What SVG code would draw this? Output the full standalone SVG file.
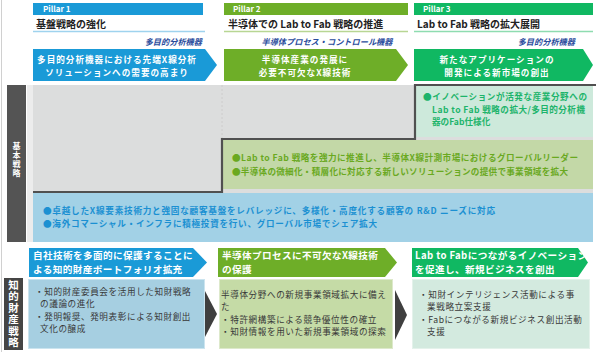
<svg xmlns="http://www.w3.org/2000/svg" width="600" height="352" viewBox="0 0 600 352">
<style>
text{font-family:"Noto Sans CJK JP","Noto Sans",sans-serif;}
.pl{font-size:8px;font-weight:bold;fill:#fff;}
.tt{font-size:10px;font-weight:bold;fill:#222;}
.it{font-size:8.2px;font-weight:bold;font-style:italic;fill:#2a4c9c;}
.ar{font-size:8.6px;letter-spacing:1px;font-weight:bold;fill:#fff;text-anchor:middle;}
.bh{font-size:9.6px;letter-spacing:0.4px;font-weight:bold;fill:#fff;}
.bt{font-size:8.6px;letter-spacing:0.6px;fill:#383838;}
.mt{font-size:8.6px;font-weight:bold;}
.side{font-weight:bold;fill:#fff;text-anchor:middle;writing-mode:vertical-rl;}
</style>
<rect x="0" y="0" width="600" height="352" fill="#fff"/>
<line x1="1.5" y1="0" x2="1.5" y2="352" stroke="#d0d0d0" stroke-width="1"/>

<!-- Pillars -->
<g id="pillar1">
<rect x="33" y="3" width="170" height="12" fill="#1a9ad7"/>
<text class="pl" x="43" y="11.5">Pillar 1</text>
<text class="tt" x="36" y="27.5">基盤戦略の強化</text>
<line x1="33" y1="31.5" x2="205" y2="31.5" stroke="#9fd3ee" stroke-width="1.5"/>
<text class="it" x="202" y="45" text-anchor="end">多目的分析機器</text>
<path d="M33,49 H205 L217,65 L205,81 H33 Z" fill="#1a9ad7"/>
<text class="ar" x="117" y="63">多目的分析機器における先端X線分析</text>
<text class="ar" x="117" y="75.5">ソリューションへの需要の高まり</text>
</g>
<g id="pillar2">
<rect x="224" y="3" width="184" height="12" fill="#6eae28"/>
<text class="pl" x="233" y="11.5">Pillar 2</text>
<text class="tt" x="228" y="27.5">半導体での Lab to Fab 戦略の推進</text>
<line x1="224" y1="31.5" x2="408" y2="31.5" stroke="#b8d693" stroke-width="1.5"/>
<text class="it" x="327" y="45" text-anchor="middle">半導体プロセス・コントロール機器</text>
<path d="M224,49 H396 L408,65 L396,81 H224 Z" fill="#6eae28"/>
<text class="ar" x="305" y="63">半導体産業の発展に</text>
<text class="ar" x="305" y="75.5">必要不可欠なX線技術</text>
</g>
<g id="pillar3">
<rect x="414" y="3" width="179" height="12" fill="#10b862"/>
<text class="pl" x="423" y="11.5">Pillar 3</text>
<text class="tt" x="417" y="27.5">Lab to Fab 戦略の拡大展開</text>
<line x1="414" y1="31.5" x2="593" y2="31.5" stroke="#8edcb0" stroke-width="1.5"/>
<text class="it" x="575" y="45" text-anchor="end">多目的分析機器</text>
<path d="M414,49 H583 L593,65 L583,81 H414 Z" fill="#10b862"/>
<text class="ar" x="497" y="63">新たなアプリケーションの</text>
<text class="ar" x="497" y="75.5">開発による新市場の創出</text>
</g>

<!-- Basic strategy band -->
<g id="basic-strategy">
<rect x="7" y="85" width="19" height="157" fill="#545454"/>
<text class="side" font-size="8" letter-spacing="1" x="16.5" y="160">基本戦略</text>
<rect x="27" y="85" width="6" height="157" fill="#ececec"/>
<rect x="33" y="85" width="560" height="157" fill="#dcdddd"/>
<line x1="222" y1="85" x2="222" y2="139" stroke="#c9c9c9" stroke-width="0.8" stroke-dasharray="2,2"/>
</g>
<g id="region-pillar3">
<rect x="415" y="85" width="178" height="52" fill="#cde9db"/>
<text class="mt" fill="#1db46b" x="423" y="100" textLength="164" lengthAdjust="spacing">●イノベーションが活発な産業分野への</text>
<text class="mt" fill="#1db46b" x="432" y="112.5" textLength="153" lengthAdjust="spacing">Lab to Fab 戦略の拡大/多目的分析機</text>
<text class="mt" fill="#1db46b" x="432" y="125">器のFab仕様化</text>
</g>
<g id="region-pillar2">
<rect x="222" y="140" width="371" height="49" fill="#c3d8a7"/>
<text class="mt" fill="#6aa91f" x="232" y="160.5" textLength="346" lengthAdjust="spacing">●Lab to Fab 戦略を強力に推進し、半導体X線計測市場におけるグローバルリーダー</text>
<text class="mt" fill="#6aa91f" x="232" y="175" textLength="336" lengthAdjust="spacing">●半導体の微細化・積層化に対応する新しいソリューションの提供で事業領域を拡大</text>
</g>
<g id="region-pillar1">
<rect x="33" y="193" width="560" height="49" fill="#a2d1e6"/>
<text class="mt" fill="#1b90d2" x="43" y="213.5" textLength="452" lengthAdjust="spacing">●卓越したX線要素技術力と強固な顧客基盤をレバレッジに、多様化・高度化する顧客の R&amp;D ニーズに対応</text>
<text class="mt" fill="#1b90d2" x="43" y="226.5" textLength="334" lengthAdjust="spacing">●海外コマーシャル・インフラに積極投資を行い、グローバル市場でシェア拡大</text>
</g>
<path d="M33,192 H222 V139 H415 V85 H596" fill="none" stroke="#505050" stroke-width="2.2"/>

<!-- IP strategy -->
<g id="ip-strategy">
<rect x="4" y="278" width="19" height="72" fill="#454545"/>
<text class="side" font-size="10.5" letter-spacing="1" fill="#e6e6e6" x="13.5" y="314">知的財産戦略</text>
</g>
<g id="ip1">
<path d="M29,248 H193 L207,262.5 L193,277 H29 Z" fill="#1a9ad7"/>
<text class="bh" x="33" y="259">自社技術を多面的に保護することに</text>
<text class="bh" x="33" y="273">よる知的財産ポートフォリオ拡充</text>
<rect x="28.5" y="279.5" width="176" height="69" fill="#a6cfe1" stroke="#cbe4ef" stroke-width="1"/>
<text class="bt" x="35" y="294.5">・知的財産委員会を活用した知財戦略</text>
<text class="bt" x="40" y="307">の議論の進化</text>
<text class="bt" x="35" y="319.5">・発明報奨、発明表彰による知財創出</text>
<text class="bt" x="40" y="332">文化の醸成</text>
</g>
<g id="ip2">
<path d="M218,248 H385 L397,262.5 L385,277 H218 Z" fill="#6eae28"/>
<text class="bh" x="222" y="259">半導体プロセスに不可欠なX線技術</text>
<text class="bh" x="222" y="273">の保護</text>
<rect x="219.5" y="279.5" width="173" height="69" fill="#c5dba6" stroke="#dde9cb" stroke-width="1"/>
<text class="bt" x="221" y="297.5">半導体分野への新規事業領域拡大に備え</text>
<text class="bt" x="221" y="310">た</text>
<text class="bt" x="221" y="322.5">・特許網構築による競争優位性の確立</text>
<text class="bt" x="221" y="335">・知財情報を用いた新規事業領域の探索</text>
</g>
<g id="ip3">
<path d="M412,248 H578 L588,262.5 L578,277 H412 Z" fill="#10b862"/>
<text class="bh" x="415" y="259">Lab to Fabにつながるイノベーション</text>
<text class="bh" x="415" y="273">を促進し、新規ビジネスを創出</text>
<rect x="412.5" y="279.5" width="177" height="69" fill="#d3eadf" stroke="#e4f2eb" stroke-width="1"/>
<text class="bt" x="419" y="297.5">・知財インテリジェンス活動による事</text>
<text class="bt" x="427" y="310">業戦略立案支援</text>
<text class="bt" x="419" y="322.5">・Fabにつながる新規ビジネス創出活動</text>
<text class="bt" x="427" y="335">支援</text>
</g>

<g id="connectors">
<path d="M205,291 L217,314 L205,337 Z" fill="#3f3f3f"/>
<path d="M395,290 L407,315 L395,340 Z" fill="#3f3f3f"/>
</g>
</svg>
